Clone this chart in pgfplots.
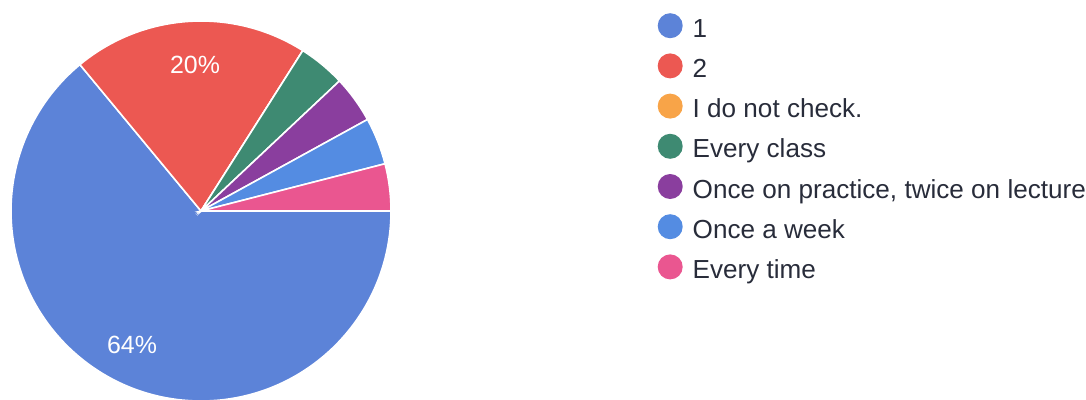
\documentclass[border=0pt]{standalone}
\usepackage{fontspec}
\setmainfont{Liberation Sans}
\usepackage{pgfplots}
\usepackage{pgfplotstable}
\pgfplotsset{compat=1.18}
\definecolor{c1}{RGB}{92,131,216}
\definecolor{c2}{RGB}{236,88,82}
\definecolor{c3}{RGB}{248,164,72}
\definecolor{c4}{RGB}{62,138,114}
\definecolor{c5}{RGB}{138,62,158}
\definecolor{c6}{RGB}{84,140,226}
\definecolor{c7}{RGB}{234,86,144}
\definecolor{txt}{RGB}{40,44,58}
% share of answers in percent, in the order of the legend
\pgfplotstableread{
id value color
1 64 c1
2 20 c2
3 0 c3
4 4 c4
5 4 c5
6 4 c6
7 4 c7
}\piedata
\begin{document}
\begin{tikzpicture}
% build the sectors (clockwise from 3 o'clock) from the table
\def\piecmds{}
\gdef\curang{0}
\pgfplotstablegetrowsof{\piedata}
\pgfmathtruncatemacro\lastrow{\pgfplotsretval-1}
\foreach \r in {0,...,\lastrow}{
  \pgfplotstablegetelem{\r}{value}\of{\piedata}\let\v\pgfplotsretval
  \pgfplotstablegetelem{\r}{color}\of{\piedata}\let\c\pgfplotsretval
  \pgfmathsetmacro\newang{\curang-3.6*\v}
  \xdef\piecmds{\unexpanded\expandafter{\piecmds}\noexpand\fill[\c,draw=white,line width=1.6bp] (axis cs:201,189) -- ++(\curang:190bp) arc[start angle=\curang, end angle=\newang, radius=190bp] -- cycle;}
  \xdef\curang{\newang}
}
\begin{axis}[
  at={(0,0)}, anchor=south west,
  scale only axis, width=1086bp, height=400bp,
  xmin=0, xmax=1086, ymin=0, ymax=400,
  hide axis, clip=false,
  legend image code/.code={\fill[#1] (12.5bp,1.5bp) circle (12.5bp);},
  legend cell align=left,
  legend style={
    at={(axis cs:657.5,387)}, anchor=north west,
    draw=none, fill=none, inner sep=0pt,
    font=\fontsize{26.2}{30}\selectfont, text=txt,
    row sep=15.2bp, column sep=10bp,
    nodes={inner sep=0pt, text height=20bp, text depth=0bp},
  },
]
\piecmds
\node[white, font=\fontsize{25}{30}\selectfont] at (axis cs:195,335) {20\%};
\node[white, font=\fontsize{25}{30}\selectfont] at (axis cs:132,55) {64\%};
\addlegendimage{fill=c1, draw=none}
\addlegendimage{fill=c2, draw=none}
\addlegendimage{fill=c3, draw=none}
\addlegendimage{fill=c4, draw=none}
\addlegendimage{fill=c5, draw=none}
\addlegendimage{fill=c6, draw=none}
\addlegendimage{fill=c7, draw=none}
\legend{1,2,I do not check.,Every class,{Once on practice, twice on lecture},Once a week,Every time}
\end{axis}
\pgfresetboundingbox
\path (0,0) rectangle (1086bp,400bp);
\end{tikzpicture}
\end{document}
